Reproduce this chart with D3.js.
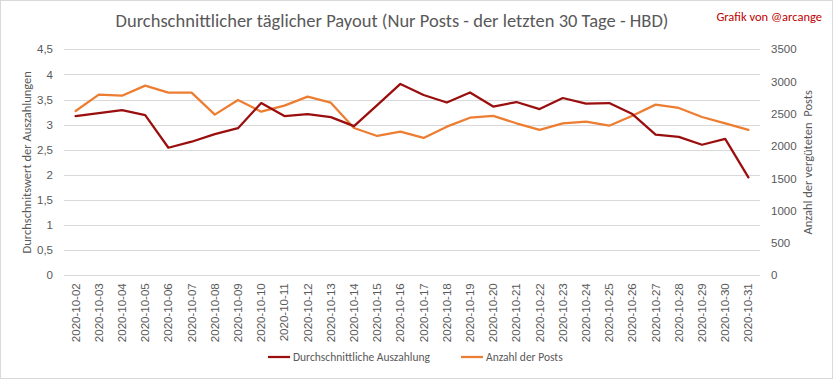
<!DOCTYPE html>
<html><head><meta charset="utf-8">
<script src="https://cdn.jsdelivr.net/npm/d3@7"></script>
<style>body{margin:0;background:#fff}svg{display:block;font-family:Carlito,"Open Sans","Liberation Sans",sans-serif}</style>
</head><body><svg id="c" width="833" height="379"></svg>
<script>
const dates = ["2020-10-02","2020-10-03","2020-10-04","2020-10-05","2020-10-06","2020-10-07","2020-10-08","2020-10-09","2020-10-10","2020-10-11","2020-10-12","2020-10-13","2020-10-14","2020-10-15","2020-10-16","2020-10-17","2020-10-18","2020-10-19","2020-10-20","2020-10-21","2020-10-22","2020-10-23","2020-10-24","2020-10-25","2020-10-26","2020-10-27","2020-10-28","2020-10-29","2020-10-30","2020-10-31"];
const payout = [3.17,3.23,3.29,3.19,2.54,2.66,2.81,2.93,3.43,3.17,3.21,3.15,2.97,3.39,3.81,3.59,3.44,3.64,3.36,3.45,3.31,3.53,3.42,3.43,3.21,2.80,2.755,2.60,2.715,1.95];
const posts = [2545,2797,2782,2937,2829,2829,2488,2715,2534,2627,2767,2674,2282,2158,2224,2127,2302,2441,2468,2354,2251,2354,2379,2317,2472,2643,2592,2452,2354,2251];
const leftTicks = [0,0.5,1,1.5,2,2.5,3,3.5,4,4.5];
const rightTicks = [0,500,1000,1500,2000,2500,3000,3500];
const seriesNames = ["Durchschnittliche Auszahlung","Anzahl der Posts"];
const colors = ["#9a0e0e","#ed7d31"];

const svg = d3.select("#c");
const W = 833, H = 379;
const L = 64, R = 760, T = 49.3, B = 275.3;
const txt = "#595959";

svg.append("rect").attr("x",0.5).attr("y",0.5).attr("width",W-1).attr("height",H-1).attr("fill","#fff").attr("stroke","#d9d9d9");

const x = d3.scaleBand().domain(dates).range([L,R]);
const yL = d3.scaleLinear().domain([0,4.5]).range([B,T]);
const yR = d3.scaleLinear().domain([0,3500]).range([B,T]);

// gridlines
svg.append("g").selectAll("line").data(leftTicks).join("line")
  .attr("x1",L).attr("x2",R).attr("y1",d=>Math.round(yL(d))+0.5).attr("y2",d=>Math.round(yL(d))+0.5)
  .attr("stroke","#d9d9d9").attr("stroke-width",1);

// left axis
const gl = svg.append("g").attr("transform",`translate(${L},0)`)
  .call(d3.axisLeft(yL).tickValues(leftTicks).tickSize(0).tickPadding(11).tickFormat(d=>String(d).replace(".",",")));
gl.select(".domain").remove();
gl.selectAll("text").attr("fill",txt).style("font-size","11.5px");

// right axis
const gr = svg.append("g").attr("transform",`translate(${R},0)`)
  .call(d3.axisRight(yR).tickValues(rightTicks).tickSize(0).tickPadding(11).tickFormat(d3.format("d")));
gr.select(".domain").remove();
gr.selectAll("text").attr("fill",txt).style("font-size","11.5px");

// bottom axis
const gb = svg.append("g").attr("transform",`translate(0,${B})`)
  .call(d3.axisBottom(x).tickSize(0).tickPadding(0));
gb.select(".domain").remove();
gb.selectAll("text").attr("fill",txt).style("font-size","11.5px")
  .attr("text-anchor","end").attr("dy","0.35em")
  .attr("transform","translate(0,8) rotate(-90)").attr("x",0).attr("y",0);

// lines
const line1 = d3.line().x((d,i)=>x(dates[i])+x.bandwidth()/2).y(d=>yL(d));
const line2 = d3.line().x((d,i)=>x(dates[i])+x.bandwidth()/2).y(d=>yR(d));
svg.append("path").datum(posts).attr("d",line2).attr("fill","none").attr("stroke",colors[1]).attr("stroke-width",2.25).attr("stroke-linejoin","round").attr("stroke-linecap","round");
svg.append("path").datum(payout).attr("d",line1).attr("fill","none").attr("stroke",colors[0]).attr("stroke-width",2.25).attr("stroke-linejoin","round").attr("stroke-linecap","round");

// titles
svg.append("text").attr("x",392).attr("y",27).attr("text-anchor","middle").attr("fill",txt).style("font-size","18.5px")
  .text("Durchschnittlicher täglicher Payout (Nur Posts - der letzten 30 Tage - HBD)");
svg.append("text").attr("x",822).attr("y",21).attr("text-anchor","end").attr("fill","#c00000").style("font-size","12.5px")
  .text("Grafik von @arcange");
svg.append("text").attr("transform",`translate(31,${(T+B)/2}) rotate(-90)`).attr("text-anchor","middle").attr("fill",txt).style("font-size","12.5px")
  .text("Durchschnitswert der Auszahlungen");
svg.append("text").attr("transform",`translate(812,${(T+B)/2}) rotate(-90)`).attr("text-anchor","middle").attr("fill",txt).style("font-size","12.5px")
  .attr("xml:space","preserve").text("Anzahl der vergüteten  Posts");

// legend
const lg = svg.append("g");
const items = [{x:268,n:seriesNames[0],c:colors[0]},{x:461,n:seriesNames[1],c:colors[1]}];
items.forEach(it=>{
  lg.append("line").attr("x1",it.x).attr("x2",it.x+22).attr("y1",357).attr("y2",357).attr("stroke",it.c).attr("stroke-width",2.25);
  lg.append("text").attr("x",it.x+25).attr("y",361).attr("fill",txt).style("font-size","11.5px").text(it.n);
});
</script></body></html>
